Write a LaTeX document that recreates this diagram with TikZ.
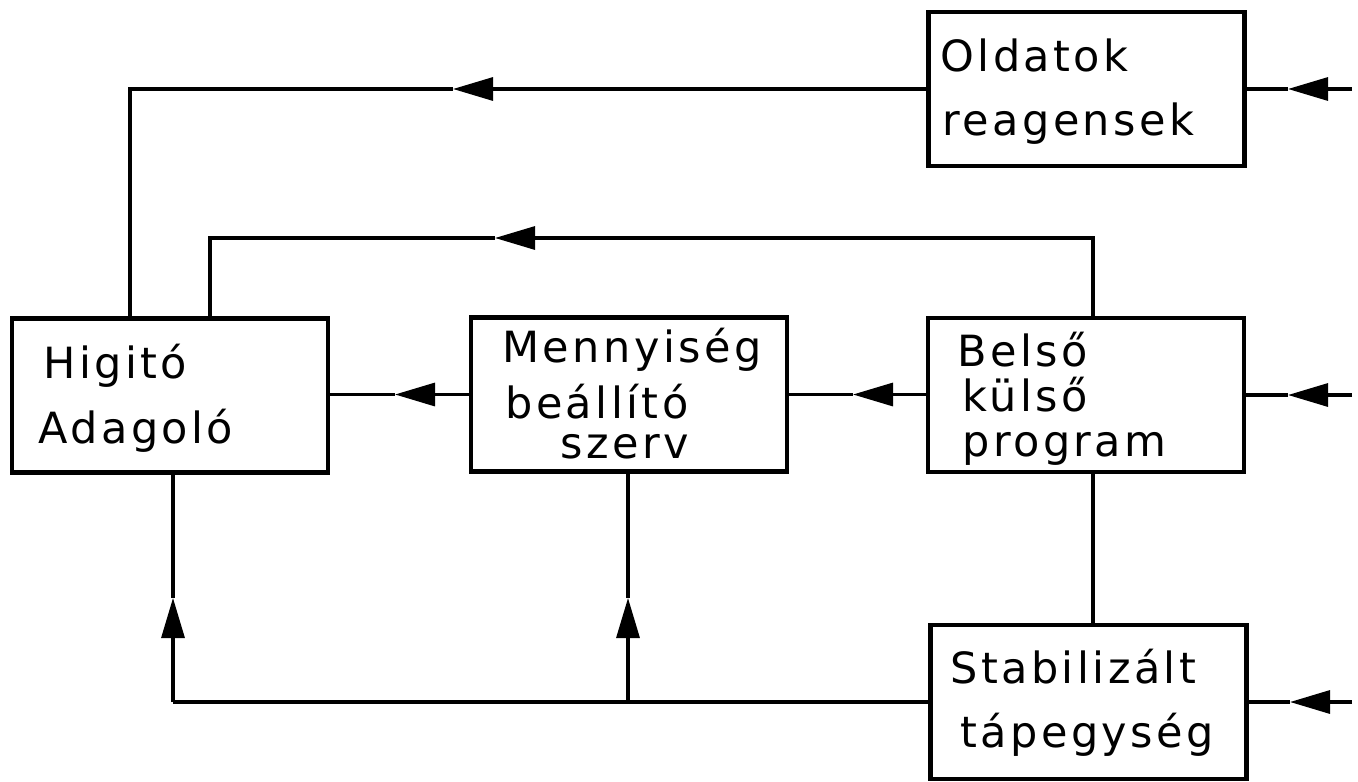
\documentclass[tikz,border=0pt]{standalone}
\usepackage{fontspec}
\setmainfont{DejaVu Sans}[LetterSpace=8]
\usetikzlibrary{arrows.meta}
\begin{document}
\begin{tikzpicture}[x=0.5pt,y=-0.5pt,
  block/.style={draw, line width=2.2pt, minimum width=158pt, minimum height=77pt, inner sep=0pt},
  lbl/.style={anchor=base west, inner sep=0pt, font=\fontsize{21.5}{26}\selectfont},
  wire/.style={line width=1.6pt},
  arr/.style={wire, -{Triangle[length=20pt,width=11.5pt]}}]
\useasboundingbox (0,0) rectangle (1358,781);

% blocks
\node[block] (oldatok) at (1086.5,89) {};
\node[block] (higito)  at (170,395.5) {};
\node[block] (menny)   at (629,394.5) {};
\node[block] (belso)   at (1086,395) {};
\node[block] (stab)    at (1088.5,702) {};

% block texts
\node[lbl] (oldatok1) at (940,72)  {Oldatok};
\node[lbl] (oldatok2) at (942,135) {reagensek};
\node[lbl] (higito1)  at (43,378)  {Higitó};
\node[lbl] (higito2)  at (38,443)  {Adagoló};
\node[lbl] (menny1)   at (502,362) {Mennyiség};
\node[lbl] (menny2)   at (505,418) {beállító};
\node[lbl] (menny3)   at (560,458) {szerv};
% three tightly set lines; the node's base is the last line
\node[lbl, align=left, font=\fontsize{21.5}{22.5}\selectfont] (belsotxt) at (957,456)
  {Belső\\\hspace*{2.5pt}külső\\\hspace*{2.5pt}program};
\node[lbl] (stab1)    at (950,683) {Stabilizált};
\node[lbl] (stab2)    at (960,747) {tápegység};

% bends and arrow tips
\coordinate (kA)   at (130,89);
\coordinate (tipA) at (453,89);
\coordinate (kB)   at (1093,238);
\coordinate (tipB) at (495,238);
\coordinate (kC)   at (210,238);
\coordinate (tipD) at (395,394.5);
\coordinate (tipG) at (853,394.5);
\coordinate (kE)   at (173,702);
\coordinate (kF)   at (628,702);
\coordinate (tipE) at (173,598);
\coordinate (tipF) at (628,598);

% top feed: solutions to the diluter
\draw[arr] (oldatok.west) -- (tipA);
\draw[wire] (tipA) -- (kA) -- (kA |- higito.north);

% program loop to the diluter
\draw[arr] (kB |- belso.north) -- (kB) -- (tipB);
\draw[wire] (tipB) -- (kC) -- (kC |- higito.north);

% middle chain
\draw[arr] (menny.west) -- (tipD);
\draw[wire] (tipD) -- (higito.east |- menny.west);
\draw[arr] (belso.west |- menny.east) -- (tipG);
\draw[wire] (tipG) -- (menny.east);

% program to power supply
\draw[wire] (kB |- belso.south) -- (kB |- stab.north);

% power supply distribution
\draw[wire] (stab.west) -- (kF) -- (kE);
\draw[arr] (kE) -- (tipE);
\draw[wire] (tipE) -- (tipE |- higito.south);
\draw[arr] (kF) -- (tipF);
\draw[wire] (tipF) -- (tipF |- menny.south);

% external inputs
\coordinate (inA) at (1352,89);
\coordinate (inB) at (1352,395);
\coordinate (inC) at (1352,702);
\coordinate (tipR1) at (1288,89);
\coordinate (tipR2) at (1288,395);
\coordinate (tipR3) at (1290,702);
\draw[arr] (inA) -- (tipR1);
\draw[wire] (tipR1) -- (oldatok.east);
\draw[arr] (inB) -- (tipR2);
\draw[wire] (tipR2) -- (belso.east);
\draw[arr] (inC) -- (tipR3);
\draw[wire] (tipR3) -- (stab.east);
\end{tikzpicture}
\end{document}
